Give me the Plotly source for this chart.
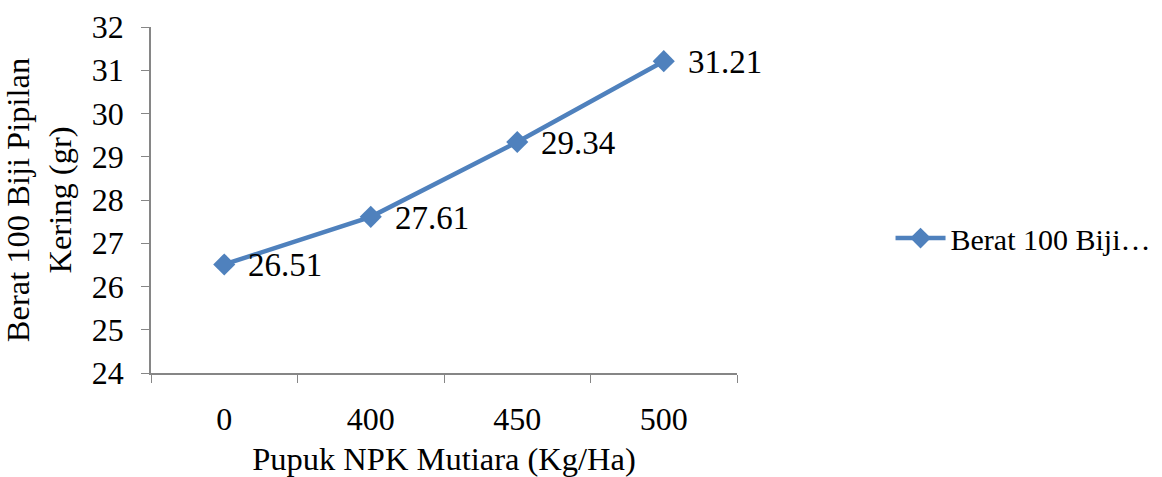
import plotly.graph_objects as go

categories = ["0", "400", "450", "500"]
values = [26.51, 27.61, 29.34, 31.21]
series_name = "Berat 100 Biji\u2026"
y_ticks = [24, 25, 26, 27, 28, 29, 30, 31, 32]

FONT = "Liberation Serif, Times New Roman, serif"
BLUE = "#4F81BD"
AXIS = "#868686"

fig = go.Figure()
fig.add_trace(go.Scatter(
    x=categories, y=values, mode="lines+markers", name=series_name,
    line=dict(color=BLUE, width=4.5),
    marker=dict(symbol="diamond", size=17, color=BLUE),
))

for i, v in enumerate(values):
    fig.add_annotation(x=i, y=v, xref="x", yref="y", text=f"{v:.2f}", showarrow=False,
                       xanchor="left", yanchor="middle", xshift=22, yshift=-1,
                       font=dict(family=FONT, size=33, color="black"))

fig.update_layout(
    width=1162, height=477,
    margin=dict(l=151, r=425, t=27, b=104, autoexpand=False),
    paper_bgcolor="white", plot_bgcolor="white",
    font=dict(family=FONT, size=30, color="black"),
    showlegend=True,
    legend=dict(x=1.262, y=0.39, xanchor="left", yanchor="middle",
                font=dict(family=FONT, size=30, color="black"),
                itemwidth=50, bgcolor="rgba(0,0,0,0)"),
)
fig.update_xaxes(
    type="category", tickson="boundaries", ticks="outside", ticklen=8,
    tickcolor=AXIS, showline=True, linecolor=AXIS, linewidth=1.5,
    showgrid=False, ticklabelstandoff=17, range=[-0.5, 3.5], automargin=False,
    tickfont=dict(family=FONT, size=32),
    title=dict(text="Pupuk NPK Mutiara (Kg/Ha)", standoff=15,
               font=dict(family=FONT, size=32.5)),
)
fig.update_yaxes(
    range=[24, 32], tickvals=y_ticks, ticks="outside", ticklen=8,
    tickcolor=AXIS, showline=True, linecolor=AXIS, linewidth=1.5,
    showgrid=False, zeroline=False, ticklabelstandoff=11, automargin=False,
    tickfont=dict(family=FONT, size=32),
    title=dict(text="Berat 100 Biji Pipilan<br>Kering (gr)", standoff=10,
               font=dict(family=FONT, size=32.5)),
)

fig.write_html("out.html")
